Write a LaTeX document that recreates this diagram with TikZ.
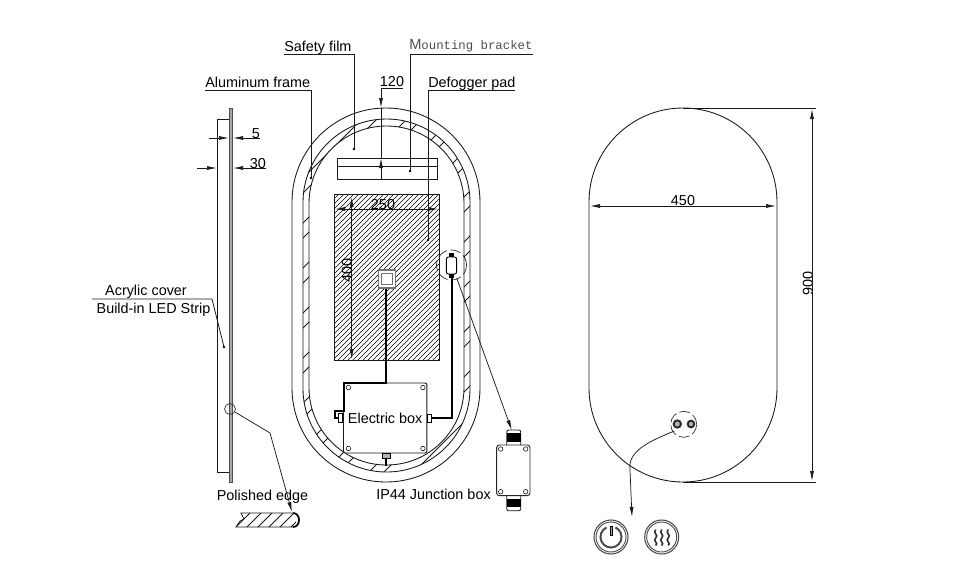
\documentclass[tikz,border=0pt]{standalone}
\usepackage{fontspec}
\setmainfont{Liberation Sans}
\newfontfamily\bracketfont{Liberation Mono}
\usetikzlibrary{arrows.meta, positioning}
\tikzset{
	lab/.style={inner sep=0pt, font=\fontsize{10.8}{12}\selectfont},
	outline/.style={line width=0.65pt, draw=black!90},
	leader/.style={line width=0.55pt, draw=black!90},
	dim/.style={line width=0.55pt, draw=black!90, -{Latex[length=7.5pt,width=3pt]}},
	dimboth/.style={line width=0.55pt, draw=black!90, {Latex[length=7.5pt,width=3pt]}-{Latex[length=7.5pt,width=3pt]}},
	wire/.style={line width=1.5pt},
	dot/.style={circle, fill=black, inner sep=0pt, minimum size=2.2pt},
	screw/.style={circle, draw, line width=0.4pt, fill=white, inner sep=0pt, minimum size=3.4pt},
	dashcircle/.style={circle, draw=black!85, line width=0.5pt, dash pattern=on 8pt off 2.5pt, inner sep=0pt},
	icon/.style={circle, draw=black!70, line width=0.8pt, inner sep=0pt, minimum size=25.5pt}
}
\begin{document}
\begin{tikzpicture}[x=0.75pt, y=-0.75pt]
	\useasboundingbox (0,0) rectangle (979,569);

	% side view
	\draw[outline] (230,119) -- (217,119) -- (217,472) -- (230,472);
	\draw[line width=0.4pt, draw=black!70, fill=black!35] (229.5,108) rectangle (232.5,482);
	\node[circle, draw=black!85, line width=0.5pt, inner sep=0pt, minimum size=8.2pt] (polish) at (230,409) {};
	\coordinate (polishtip) at (292,512);
	\draw[dim] (polish) -- (270,433) -- (polishtip);

	% polished edge detail
	\begin{scope}
		\clip (236,513) rectangle (296,527);
		\foreach \xx in {236,247,...,291}
			\draw[leader] (\xx,527) -- (\xx+14,513);
	\end{scope}
	\fill[white] (236,513) -- (241,513) -- (244,519) -- (240,521) -- (236,527) -- (230,527) -- (230,513) -- cycle;
	\draw[leader] (293,513) -- (241,513) -- (244,519) -- (240,521) -- (236,527) -- (293,527);
	\draw[line width=1.3pt] (293,513) .. controls (301,513) and (301,527) .. (293,527);

	% mirror outline and frame
	\draw[outline, rounded corners=70.5pt] (292,108) rectangle (480,482);
	\draw[outline, rounded corners=62.6pt] (303,119) rectangle (470,472);
	\draw[outline, rounded corners=58.1pt] (309,126) rectangle (464,465);
	\begin{scope}[even odd rule]
		\clip (303,202.5) arc[start angle=180, end angle=0, radius=62.625pt] -- (470,388.5) arc[start angle=0, end angle=-180, radius=62.625pt] -- cycle
			(309,203.5) arc[start angle=180, end angle=0, radius=58.125pt] -- (464,387.5) arc[start angle=0, end angle=-180, radius=58.125pt] -- cycle;
		\foreach \k in {-3,...,11} {
			\draw[leader] (391+45*\k-20,20) -- (391+45*\k-520,520);
			\draw[leader] (406+45*\k-20,20) -- (406+45*\k-520,520);
		}
	\end{scope}

	% mounting bracket
	\draw[outline] (337,158) rectangle (437,179);
	\draw[outline] (337,166) -- (437,166);

	% defogger pad
	\begin{scope}
		\clip (334,194) rectangle (439,360);
		\foreach \c in {528,533,...,800}
			\draw[line width=0.4pt] (\c-190,190) -- (\c-365,365);
	\end{scope}
	\draw[outline] (334,194) rectangle (439,360);

	% parts inside
	\node[draw=black!55, line width=0.8pt, fill=white, inner sep=0pt, minimum width=12.8pt, minimum height=13.5pt] (sensor) at (387,279) {};
	\node[draw=black!55, line width=0.6pt, fill=white, inner sep=0pt, minimum size=8pt] at (sensor) {};
	\node[lab, draw=black!90, line width=0.7pt, fill=white, rounded corners=1.5pt, minimum width=62.6pt, minimum height=52.5pt] (ebox) at (385.2,418) {Electric box};
	\foreach \a/\b in {4.5/4.5, 79/4.5, 4.5/65.5, 79/65.5}
		\node[screw] at (343.9+\a,383+\b) {};
	\node[draw, line width=0.5pt, fill=white, inner sep=0pt, minimum width=3.4pt, minimum height=7pt] (plugl) at (340.5,418) {};
	\node[draw, line width=0.5pt, fill=white, inner sep=0pt, minimum width=3.4pt, minimum height=6pt] (plugr) at (429.5,418) {};
	\node[draw, line width=0.5pt, fill=black!30, inner sep=0pt, minimum width=6pt, minimum height=3.6pt] (plugb) at (386,455.5) {};
	\coordinate (plugbend) at (386,466);
	\draw[wire] (plugb) -- (plugbend);

	% small connector
	\node[draw, line width=0.7pt, fill=white, rounded corners=1.5pt, inner sep=0pt, minimum width=7.6pt, minimum height=12.8pt] (conn) at (451.5,265.5) {};
	\fill (449.2,253) rectangle (453.8,257.2);
	\fill (449,274) rectangle (454,278);
	\node[dashcircle, minimum size=22.5pt] (conncircle) at (451.5,265) {};
	\coordinate (connbottom) at (451.5,278);

	% wires
	\draw[wire] (sensor.south -| 385.5,383) -- (385.5,383) -- (343.5,383) -- (343.5,411) -- (335,411) -- (335,418) -- (plugl);
	\draw[wire] (plugr) -- (451.5,418) -- (connbottom);

	% junction box
	\node[draw=black!85, line width=0.7pt, fill=white, rounded corners=2pt, inner sep=0pt, minimum width=25pt, minimum height=38pt] (jbox) at (513.3,470.3) {};
	\foreach \a in {500.7,525.7}
		\foreach \b in {449,491.7}
			\node[screw] at (\a,\b) {};
	\draw[outline, rounded corners=1.5pt] (506.7,445) -- (506.7,430) -- (520.7,430) -- (520.7,445);
	\fill (506.7,433) rectangle (520.7,442);
	\draw[outline, rounded corners=1.5pt] (506.7,495.7) -- (506.7,510.7) -- (520.7,510.7) -- (520.7,495.7);
	\fill (506.7,498.5) rectangle (520.7,507);
	\coordinate (jtip) at (511.7,430);
	\draw[dim] (456.7,278) -- (jtip);
	\node[lab, anchor=east] (jlabel) at (491,494) {IP44 Junction box};

	% labels with leaders
	\node[lab, anchor=south west] (film) at (284,55) {Safety film};
	\coordinate (filmdot) at (354,149);
	\draw[leader] (284,54) -- (354,54) -- (filmdot);
	\node[dot] at (filmdot) {};

	\node[anchor=south west, inner sep=0pt, text=black!70] (bracket) at (409,52) {{\fontsize{11}{12}\selectfont M}{\bracketfont\fontsize{9.25}{12}\selectfont ounting bracket}};
	\coordinate (bracketdot) at (410,171);
	\draw[leader] (533,54) -- (410,54) -- (bracketdot);
	\node[dot] at (bracketdot) {};

	\node[lab, anchor=south west] (frame) at (205,88) {Aluminum frame};
	\coordinate (framedot) at (311,178);
	\draw[leader] (205,90) -- (311,90) -- (framedot);
	\node[dot] at (framedot) {};

	\node[lab, anchor=south west] (pad) at (428,91) {Defogger pad};
	\coordinate (paddot) at (428,240);
	\draw[leader] (515,90) -- (428,90) -- (paddot);
	\node[dot] at (paddot) {};

	\node[lab] (acrylic) at (146,292) {Acrylic cover};
	\node[lab] (strip) at (153.5,310) {Build-in LED Strip};
	\coordinate (stripdot) at (224,347);
	\draw[leader] (92,299) -- (212,299) -- (stripdot);
	\node[dot] at (stripdot) {};

	\node[lab] (edge) at (262.5,497) {Polished edge};

	% dimensions
	\node[lab, anchor=south] (d120) at (392,87) {120};
	\draw[leader] (403,88) -- (381,88);
	\draw[dim] (381,88) -- (381,108);
	\draw[dim] (381,179) -- (381,158);
	\draw[leader] (381,108) -- (381,158);

	\node[lab] (d5) at (256,134) {5};
	\draw[leader] (248,138) -- (260,138);
	\draw[dim] (209,138) -- (229,138);
	\draw[dim] (260,138) -- (233,138);
	\node[lab] (d30) at (258,164) {30};
	\draw[dim] (197,168) -- (217,168);
	\draw[dim] (266,168) -- (233,168);

	\node[lab] (d250) at (383,205) {250};
	\draw[dimboth] (335,209) -- (438,209);
	\node[lab, rotate=90] (d400) at (347,270) {400};
	\draw[dimboth] (351.7,197) -- (351.7,359);

	% front view
	\draw[outline, rounded corners=70.5pt] (589,108) rectangle (777,482);
	\node[lab] (d450) at (683,201) {450};
	\draw[dimboth] (590,206) -- (776,206);
	\draw[leader] (683,108) -- (816,108);
	\draw[leader] (683,482) -- (816,482);
	\node[lab, rotate=90] (d900) at (808,283) {900};
	\draw[dimboth] (812,109) -- (812,481);

	% switches
	\node[dashcircle, minimum size=19.5pt] (switches) at (683.7,424.3) {};
	\node[circle, draw=black!85, line width=1.4pt, fill=black!30, inner sep=0pt, minimum size=5.5pt] (knobl) at (677.3,424) {};
	\node[circle, draw=black!85, line width=1.4pt, fill=black!30, inner sep=0pt, minimum size=5pt] (knobr) at (691,424) {};
	\coordinate (icontip) at (632,517);
	\draw[dim] (knobl) ++(-3,7) .. controls (645,443) and (628,452) .. (630,470) -- (icontip);

	\node[icon] (power) at (611,537) {};
	\node[icon, minimum size=22.5pt, line width=0.7pt] at (power) {};
	\draw[line width=1.5pt, draw=black!70] ([shift={(115:7.9pt)}]power.center) arc[start angle=115, end angle=425, radius=7.9pt];
	\draw[line width=0.4pt, fill=black!35] (609.8,526) rectangle (612.2,535);

	\node[icon] (heat) at (661.7,537) {};
	\node[icon, minimum size=22.5pt, line width=0.7pt] at (heat) {};
	\foreach \w in {-6,0,6.5}
		\draw[line width=1.2pt, draw=black!80, xshift=\w*0.75pt] (661.7,529.5) .. controls (658.2,533) and (665.2,535) .. (661.7,538) .. controls (658.2,541) and (665.2,543) .. (661.7,545.5);
\end{tikzpicture}
\end{document}
